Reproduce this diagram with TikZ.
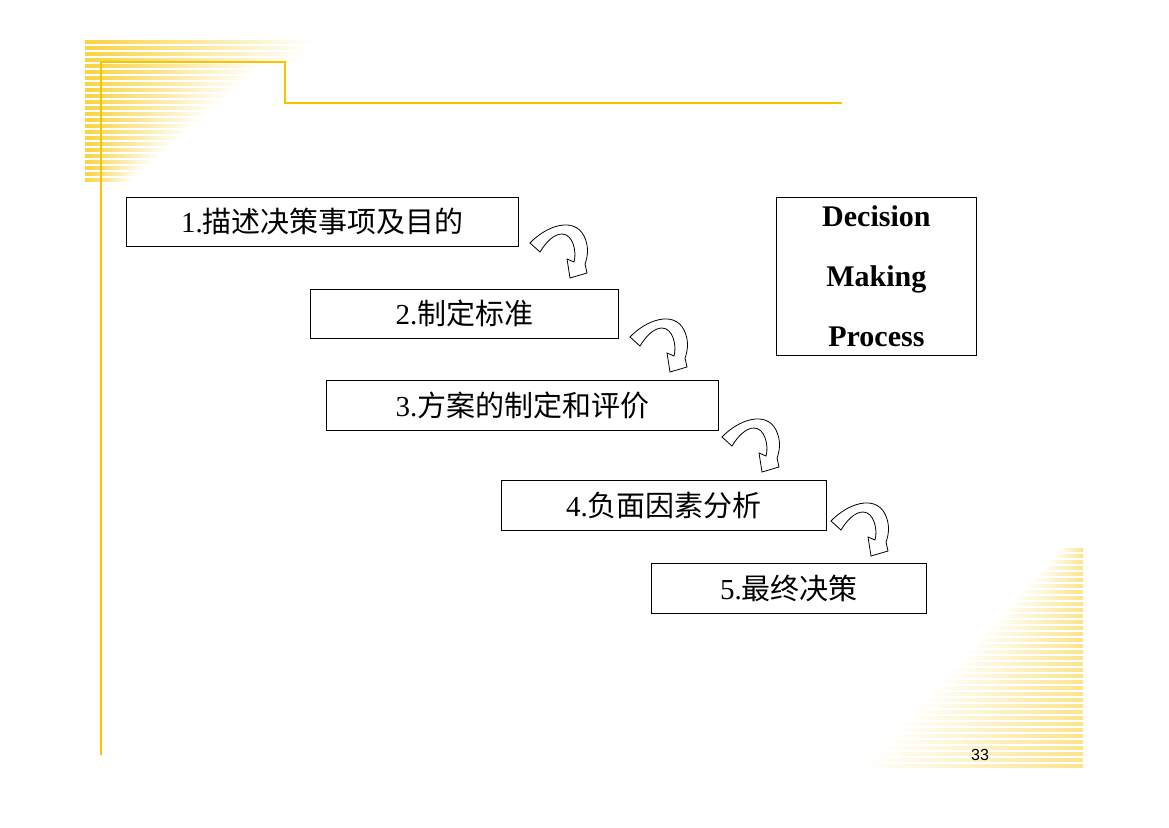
\documentclass[tikz,border=0pt]{standalone}
\usepackage{fontspec}
\setmainfont{Liberation Serif}
\newfontfamily\cjk{Noto Sans CJK SC}
\newfontfamily\arialf{Liberation Sans}
\definecolor{gold}{RGB}{247,196,0}
\begin{document}
\begin{tikzpicture}[x=1pt,y=-1pt,
  stepbox/.style={draw,line width=0.8pt,anchor=north west,inner sep=0pt,font=\fontsize{29}{30}\selectfont},
  curvarrow/.style={draw,line width=0.8pt,fill=white}]
\useasboundingbox (0,0) rectangle (1169,827);
% top-left stripes
\foreach \i in {0,...,23}{
  \pgfmathsetmacro{\yy}{40+6*\i}
  \pgfmathsetmacro{\ll}{\i<4 ? 230-5*\i : 180-7*(\i-4)}
  \shade[left color=gold!75,right color=white] (85,\yy) rectangle (85+\ll,\yy+3);
}
% bottom-right stripes
\foreach \i in {0,...,36}{
  \pgfmathsetmacro{\yy}{548+6*\i}
  \pgfmathsetmacro{\ll}{25+5.5*\i}
  \shade[left color=white,right color=gold!45] (1083-\ll,\yy) rectangle (1083,\yy+3);
}
% frame lines
\draw[gold,line width=2pt] (101,755) -- (101,62) -- (285,62) -- (285,103) -- (842,103);
% boxes
\node[stepbox,minimum width=392,minimum height=49] (b1) at (126,197) {1.{\cjk 描述决策事项及目的}};
\node[stepbox,minimum width=308,minimum height=49] (b2) at (310,289) {2.{\cjk 制定标准}};
\node[stepbox,minimum width=392,minimum height=50] (b3) at (326,380) {3.{\cjk 方案的制定和评价}};
\node[stepbox,minimum width=325,minimum height=50] (b4) at (501,480) {4.{\cjk 负面因素分析}};
\node[stepbox,minimum width=275,minimum height=50] (b5) at (651,563) {5.{\cjk 最终决策}};
\node[draw,line width=0.8pt,anchor=north west,minimum width=200,minimum height=158,inner sep=0pt,align=center,
  font=\bfseries\fontsize{30}{60}\selectfont] (dm) at (776,197) {Decision\\Making\\Process};
% curved arrows
\foreach \ox/\oy/\nm in {528/222/a1,628/316/a2,720/416/a3,829/500/a4}{
  \begin{scope}[shift={(\ox,\oy)}]
  \coordinate (\nm) at (0,0);
  \path[curvarrow] (2,21) .. controls (18,4) and (46,-6) .. (56,14)
    .. controls (61,24) and (60,34) .. (57,42) -- (59,51) -- (42,56) -- (39,37) -- (46,40)
    .. controls (49,30) and (45,12) .. (34,12) .. controls (26,12) and (18,20) .. (12,30) -- cycle;
  \end{scope}
}
\node[font=\arialf\fontsize{16}{16}\selectfont] (pg) at (980,755) {33};
\end{tikzpicture}
\end{document}
